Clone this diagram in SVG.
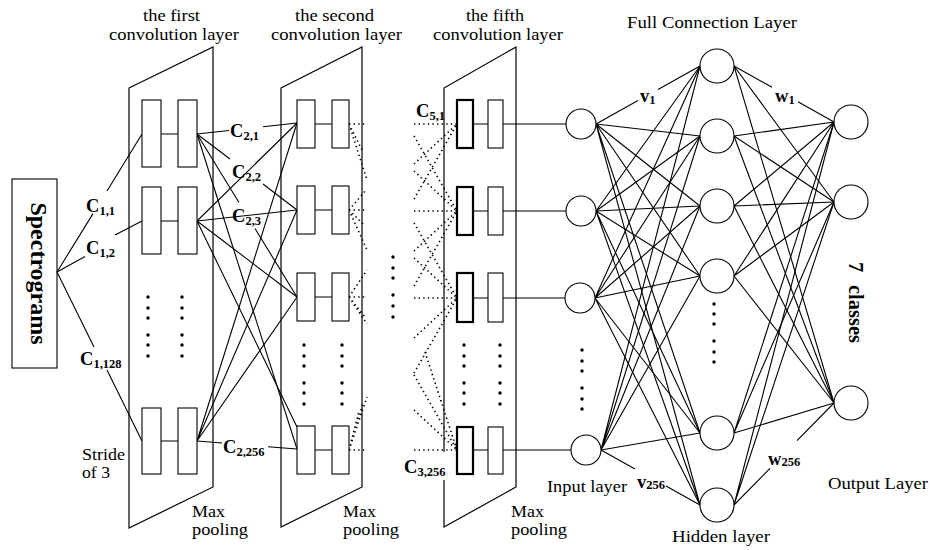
<svg xmlns="http://www.w3.org/2000/svg" width="932" height="550" viewBox="0 0 932 550">
  <style>
    .ln { stroke: #000; stroke-width: 1.1; fill: none; }
    .dot { stroke: #000; stroke-width: 1.6; fill: none; stroke-dasharray: 1.4 3.2; }
    .box { fill: #fff; stroke: #000; stroke-width: 1.1; }
    .bbox { fill: #fff; stroke: #000; stroke-width: 2.2; }
    .nd { fill: #fff; stroke: #000; stroke-width: 1.1; }
    .frame { fill: none; stroke: #000; stroke-width: 1.2; }
    .t { font-family: "Liberation Serif", "Times New Roman", serif; font-size: 18.5px; fill: #000; }
    .t2 { font-family: "Liberation Serif", "Times New Roman", serif; font-size: 16.5px; fill: #000; }
    .tm { text-anchor: middle; }
    .b { font-family: "Liberation Serif", "Times New Roman", serif; font-weight: bold; font-size: 18.5px; fill: #000; }
    .sub { font-size: 12.5px; }
    .bd { fill: #000; }
  </style>
  <defs>
    <circle id="e" r="1.7"/>
  </defs>
  <rect width="932" height="550" fill="#fff"/>

  <!-- layer titles -->
  <g id="titles">
    <text class="t2" x="143" y="21" textLength="57" lengthAdjust="spacingAndGlyphs">the first</text>
    <text class="t2" x="109" y="39.5" textLength="130" lengthAdjust="spacingAndGlyphs">convolution layer</text>
    <text class="t2" x="295" y="21" textLength="79" lengthAdjust="spacingAndGlyphs">the second</text>
    <text class="t2" x="271" y="39.5" textLength="131" lengthAdjust="spacingAndGlyphs">convolution layer</text>
    <text class="t2" x="466" y="21" textLength="58" lengthAdjust="spacingAndGlyphs">the fifth</text>
    <text class="t2" x="433" y="39.5" textLength="130" lengthAdjust="spacingAndGlyphs">convolution layer</text>
    <text class="t2" x="627" y="28" textLength="170" lengthAdjust="spacingAndGlyphs">Full Connection Layer</text>
  </g>

  <!-- input spectrogram block -->
  <g id="spectrograms">
    <rect class="box" x="12" y="179" width="45" height="189"/>
    <text class="b" style="font-size:24px" text-anchor="middle" transform="translate(31,273.5) rotate(90)">Spectrograms</text>
  </g>

  <!-- convolution stages (frames) -->
  <g id="conv1-frame">
    <polygon class="frame" points="129,88 213,47 213,487 129,528"/>
    <text class="t2" x="82" y="459.5" textLength="43" lengthAdjust="spacingAndGlyphs">Stride</text>
    <text class="t2" x="82" y="478" textLength="28" lengthAdjust="spacingAndGlyphs">of 3</text>
    <text class="t2" x="192" y="516.5" textLength="33" lengthAdjust="spacingAndGlyphs">Max</text>
    <text class="t2" x="192" y="535" textLength="56" lengthAdjust="spacingAndGlyphs">pooling</text>
  </g>
  <g id="conv2-frame">
    <polygon class="frame" points="281,88 362,47 362,487 281,527"/>
    <text class="t2" x="343" y="516.5" textLength="33" lengthAdjust="spacingAndGlyphs">Max</text>
    <text class="t2" x="343" y="535" textLength="56" lengthAdjust="spacingAndGlyphs">pooling</text>
  </g>
  <g id="conv5-frame">
    <polyline class="frame" points="444,452 444,88 516,47 516,487 444,527 444,480"/>
    <text class="t2" x="511" y="516.5" textLength="33" lengthAdjust="spacingAndGlyphs">Max</text>
    <text class="t2" x="511" y="535" textLength="56" lengthAdjust="spacingAndGlyphs">pooling</text>
  </g>

  <!-- connectors -->
  <g id="connectors">
    <!-- spectrograms to first layer -->
    <path class="ln" d="M57,272 L93,213.6 M107,191 L142,134"/>
    <path class="ln" d="M57,272 L85,256.5 M115,235 L142,221"/>
    <path class="ln" d="M57,272 L94,347 M107,370 L142,441"/>
    <!-- in-layer links, first layer -->
    <path class="ln" d="M161,134 H178 M161,221 H178 M161,441 H178"/>
    <!-- first to second layer -->
    <path class="ln" d="M197,134 L229,130.5 M263,126.7 L297,123"/>
    <path class="ln" d="M197,134 L230,159 M263,184 L297,210"/>
    <path class="ln" d="M197,134 L239,202.5 M255,228.5 L297,297"/>
    <path class="ln" d="M197,134 L297,449"/>
    <path class="ln" d="M197,221 L297,123 M197,221 L297,210 M197,221 L297,297 M197,221 L297,427"/>
    <path class="ln" d="M197,441 L297,123 M197,441 L297,210 M197,441 L297,297"/>
    <path class="ln" d="M197,441 L222,443 M268,446.7 L297,449"/>
    <!-- in-layer links, second layer -->
    <path class="ln" d="M315,124 H332 M315,210 H332 M315,297 H332 M315,450 H332"/>
    <!-- second layer outgoing (dotted) -->
    <path class="dot" d="M349,124 L367,124 M349,124 L363,152 M349,124 L367,180"/>
    <path class="dot" d="M349,210 L367,210 M349,210 L366,190 M349,210 L365,226 M349,210 L367,250"/>
    <path class="dot" d="M349,297 L367,297 M349,297 L367,270 M349,297 L365,317 M349,297 L367,324"/>
    <path class="dot" d="M349,450 L367,450 M349,450 L367,397 M349,450 L363,403 M349,450 L359,411"/>
    <!-- fifth layer incoming (dotted) -->
    <path class="dot" d="M414,124 L457,124 M414,164 L457,124 M414,199 L457,124"/>
    <path class="dot" d="M414,211 L457,211 M414,171 L457,211 M414,136 L457,211 M414,251 L457,211 M414,286 L457,211"/>
    <path class="dot" d="M414,298 L457,298 M414,258 L457,298 M414,223 L457,298 M414,338 L457,298 M414,373 L457,298"/>
    <path class="dot" d="M414,450 L457,450 M414,410 L457,450 M414,375 L457,450 M425,352 L457,450"/>
    <!-- fifth layer to input layer -->
    <path class="ln" d="M473,124 H488 M503,124 H566"/>
    <path class="ln" d="M473,211 H488 M503,211 H566"/>
    <path class="ln" d="M473,298 H488 M503,298 H565"/>
    <path class="ln" d="M473,450 H488 M503,450 H571"/>
    <!-- input to hidden (v weights) -->
    <path class="ln" d="M596,124 L638,100.6 M658,89.4 L700,66"/>
    <path class="ln" d="M596,124 L700,136 M596,124 L700,206 M596,124 L700,276 M596,124 L700,433 M596,124 L700,505"/>
    <path class="ln" d="M596,211 L700,66 M596,211 L700,136 M596,211 L700,206 M596,211 L700,276 M596,211 L700,433 M596,211 L700,505"/>
    <path class="ln" d="M595,298 L700,66 M595,298 L700,136 M595,298 L700,206 M595,298 L700,276 M595,298 L700,433 M595,298 L700,505"/>
    <path class="ln" d="M601,450 L700,66 M601,450 L700,136 M601,450 L700,206 M601,450 L700,276 M601,450 L700,433"/>
    <path class="ln" d="M601,450 L635,469 M666,486 L700,505"/>
    <!-- hidden to output (w weights) -->
    <path class="ln" d="M734,66 L772,87.3 M798,101.8 L834,122"/>
    <path class="ln" d="M734,66 L834,202 M734,66 L834,403"/>
    <path class="ln" d="M734,136 L834,122 M734,136 L834,202 M734,136 L834,403"/>
    <path class="ln" d="M734,206 L834,122 M734,206 L834,202 M734,206 L834,403"/>
    <path class="ln" d="M734,276 L834,122 M734,276 L834,202 M734,276 L834,403"/>
    <path class="ln" d="M734,433 L834,122 M734,433 L834,202 M734,433 L834,403"/>
    <path class="ln" d="M734,505 L834,122 M734,505 L834,202"/>
    <path class="ln" d="M734,505 L770,468.3 M797,440.7 L834,403"/>
  </g>

  <!-- first convolution layer units -->
  <g id="conv1">
    <rect class="box" x="142" y="100" width="19" height="67"/>
    <rect class="box" x="178" y="100" width="19" height="67"/>
    <rect class="box" x="142" y="187" width="19" height="67"/>
    <rect class="box" x="178" y="187" width="19" height="67"/>
    <rect class="box" x="142" y="408" width="19" height="66"/>
    <rect class="box" x="178" y="408" width="19" height="66"/>
    <g class="bd">
      <use href="#e" x="148" y="297"/><use href="#e" x="148" y="308"/><use href="#e" x="148" y="318"/>
      <use href="#e" x="148" y="335"/><use href="#e" x="148" y="345"/><use href="#e" x="148" y="356"/>
      <use href="#e" x="182" y="297"/><use href="#e" x="182" y="308"/><use href="#e" x="182" y="318"/>
      <use href="#e" x="182" y="335"/><use href="#e" x="182" y="345"/><use href="#e" x="182" y="356"/>
    </g>
  </g>

  <!-- second convolution layer units -->
  <g id="conv2">
    <rect class="box" x="297" y="100" width="18" height="48"/>
    <rect class="box" x="332" y="100" width="17" height="48"/>
    <rect class="box" x="297" y="186" width="18" height="48"/>
    <rect class="box" x="332" y="186" width="17" height="48"/>
    <rect class="box" x="297" y="273" width="18" height="48"/>
    <rect class="box" x="332" y="273" width="17" height="48"/>
    <rect class="box" x="297" y="426" width="18" height="48"/>
    <rect class="box" x="332" y="426" width="17" height="48"/>
    <g class="bd">
      <use href="#e" x="304" y="345"/><use href="#e" x="304" y="356"/><use href="#e" x="304" y="366"/>
      <use href="#e" x="304" y="383"/><use href="#e" x="304" y="393"/><use href="#e" x="304" y="404"/>
      <use href="#e" x="342" y="345"/><use href="#e" x="342" y="356"/><use href="#e" x="342" y="366"/>
      <use href="#e" x="342" y="383"/><use href="#e" x="342" y="393"/><use href="#e" x="342" y="404"/>
    </g>
  </g>

  <!-- skipped intermediate layers -->
  <g id="skip" class="bd">
    <use href="#e" x="393" y="257"/><use href="#e" x="393" y="268"/><use href="#e" x="393" y="278"/>
    <use href="#e" x="393" y="295"/><use href="#e" x="393" y="306"/><use href="#e" x="393" y="317"/>
  </g>

  <!-- fifth convolution layer units -->
  <g id="conv5">
    <rect class="bbox" x="457" y="100" width="16" height="48"/>
    <rect class="box" x="488" y="100" width="15" height="48"/>
    <rect class="bbox" x="457" y="187" width="16" height="48"/>
    <rect class="box" x="488" y="187" width="15" height="48"/>
    <rect class="bbox" x="457" y="273" width="16" height="49"/>
    <rect class="box" x="488" y="273" width="15" height="49"/>
    <rect class="bbox" x="457" y="427" width="16" height="47"/>
    <rect class="box" x="488" y="427" width="15" height="47"/>
    <g class="bd">
      <use href="#e" x="464" y="345"/><use href="#e" x="464" y="356"/><use href="#e" x="464" y="366"/>
      <use href="#e" x="464" y="383"/><use href="#e" x="464" y="393"/><use href="#e" x="464" y="404"/>
      <use href="#e" x="500" y="345"/><use href="#e" x="500" y="356"/><use href="#e" x="500" y="366"/>
      <use href="#e" x="500" y="383"/><use href="#e" x="500" y="393"/><use href="#e" x="500" y="404"/>
    </g>
  </g>

  <!-- fully connected network -->
  <g id="input-layer">
    <circle class="nd" cx="581" cy="124" r="15"/>
    <circle class="nd" cx="581" cy="211" r="15"/>
    <circle class="nd" cx="580" cy="298" r="15"/>
    <circle class="nd" cx="586" cy="450" r="15"/>
    <g class="bd">
      <use href="#e" x="582" y="350"/><use href="#e" x="582" y="361"/><use href="#e" x="582" y="371"/>
      <use href="#e" x="582" y="388"/><use href="#e" x="582" y="399"/><use href="#e" x="582" y="409"/>
    </g>
    <text class="t2" x="547" y="492" textLength="80" lengthAdjust="spacingAndGlyphs">Input layer</text>
  </g>
  <g id="hidden-layer">
    <circle class="nd" cx="717" cy="66" r="17"/>
    <circle class="nd" cx="717" cy="136" r="17"/>
    <circle class="nd" cx="717" cy="206" r="17"/>
    <circle class="nd" cx="717" cy="276" r="17"/>
    <circle class="nd" cx="717" cy="433" r="17"/>
    <circle class="nd" cx="717" cy="505" r="17"/>
    <g class="bd">
      <use href="#e" x="714" y="304"/><use href="#e" x="714" y="314"/><use href="#e" x="714" y="324"/>
      <use href="#e" x="714" y="341"/><use href="#e" x="714" y="352"/><use href="#e" x="714" y="362"/>
    </g>
    <text class="t2" x="672" y="542" textLength="98" lengthAdjust="spacingAndGlyphs">Hidden layer</text>
  </g>
  <g id="output-layer">
    <circle class="nd" cx="851" cy="122" r="17"/>
    <circle class="nd" cx="851" cy="202" r="17"/>
    <circle class="nd" cx="851" cy="403" r="17"/>
    <text class="b" style="font-size:20.5px" transform="translate(849,262) rotate(90)">7</text>
    <text class="b" style="font-size:20.5px" transform="translate(849,285) rotate(90)">classes</text>
    <text class="t2" x="828" y="489" textLength="100" lengthAdjust="spacingAndGlyphs">Output Layer</text>
  </g>

  <!-- kernel and weight labels -->
  <g id="labels">
    <text class="b" x="86" y="212">C<tspan class="sub" dy="3">1,1</tspan></text>
    <text class="b" x="86" y="254">C<tspan class="sub" dy="3">1,2</tspan></text>
    <text class="b" x="80" y="365">C<tspan class="sub" dy="3">1,128</tspan></text>
    <text class="b" x="230" y="137">C<tspan class="sub" dy="3">2,1</tspan></text>
    <text class="b" x="232" y="178">C<tspan class="sub" dy="3">2,2</tspan></text>
    <text class="b" x="232" y="222">C<tspan class="sub" dy="3">2,3</tspan></text>
    <text class="b" x="223" y="453">C<tspan class="sub" dy="3">2,256</tspan></text>
    <text class="b" x="416" y="117">C<tspan class="sub" dy="3">5,1</tspan></text>
    <text class="b" x="404" y="473">C<tspan class="sub" dy="3">3,256</tspan></text>
    <text class="b" x="640" y="102">v<tspan class="sub" dy="2">1</tspan></text>
    <text class="b" x="775" y="102">w<tspan class="sub" dy="2">1</tspan></text>
    <text class="b" x="637" y="488">v<tspan class="sub" dy="1">256</tspan></text>
    <text class="b" x="768" y="465">w<tspan class="sub" dy="1">256</tspan></text>
  </g>
</svg>
